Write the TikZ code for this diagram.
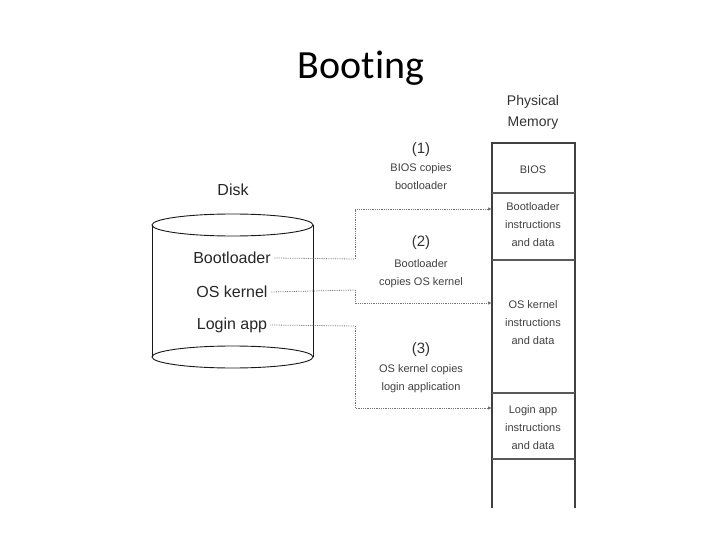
\documentclass[tikz,border=0pt]{standalone}
\usepackage{fontspec}
\setmainfont{Liberation Sans}
\newfontfamily\titlefont[Ligatures=NoCommon]{Carlito}
\usetikzlibrary{arrows.meta}
\begin{document}
\begin{tikzpicture}[x=1pt,y=-1pt,
  disktxt/.style={font=\fontsize{16}{19}\selectfont, inner sep=0, text=black!85},
  lbl/.style={font=\fontsize{11}{18}\selectfont, align=center, inner sep=0, text=black!75},
  num/.style={font=\fontsize{15}{18}\selectfont, inner sep=0, text=black!80},
  memtxt/.style={font=\fontsize{11}{18}\selectfont, align=center, inner sep=0, text=black!75},
  conn/.style={densely dotted, black!55, line width=0.8pt, -{Latex[length=4pt,width=3.5pt]}},
  link/.style={densely dotted, black!55, line width=0.8pt},
  cyl/.style={line width=0.9pt, black!90}]
\useasboundingbox (0,0) rectangle (720,540);
% title
\node[font=\titlefont\fontsize{40}{48}\selectfont, anchor=base, inner sep=0] (title) at (361,79) {Booting};
% disk cylinder
\node[disktxt] (disk) at (233,190) {Disk};
\draw[cyl] (152,225) -- (152,357);
\draw[cyl] (313,225) -- (313,357);
\draw[cyl] (232.5,225) ellipse [x radius=80.5, y radius=11];
\draw[cyl] (232.5,357) ellipse [x radius=80.5, y radius=11];
\node[disktxt] (bl) at (232,258) {Bootloader};
\node[disktxt] (os) at (232,292) {OS kernel};
\node[disktxt] (la) at (232,325) {Login app};
% physical memory
\node[font=\fontsize{14}{21}\selectfont, align=center, inner sep=0, text=black!80] (pm) at (533,112) {Physical\\Memory};
\draw[line width=1.4pt, black!75] (492,508) -- (492,143) -- (575,143) -- (575,508);
\draw[line width=1.1pt, black!65] (492,193) -- (575,193);
\draw[line width=1.1pt, black!65] (492,260) -- (575,260);
\draw[line width=1.1pt, black!65] (492,393) -- (575,393);
\draw[line width=1.1pt, black!65] (492,459) -- (575,459);
\node[memtxt] (mbios) at (533,170) {BIOS};
\node[memtxt] (mboot) at (533,225) {Bootloader\\instructions\\and data};
\node[memtxt] (mos) at (533,323) {OS kernel\\instructions\\and data};
\node[memtxt] (mlog) at (533,428) {Login app\\instructions\\and data};
% step labels
\node[num] (n1) at (421,150) {(1)};
\node[lbl] (t1) at (421,177) {BIOS copies\\bootloader};
\node[num] (n2) at (421,243) {(2)};
\node[lbl] (t2) at (421,274) {Bootloader\\copies OS kernel};
\node[num] (n3) at (421,350) {(3)};
\node[lbl] (t3) at (421,379) {OS kernel copies\\login application};
% connectors
\coordinate (k1) at (355,259);
\coordinate (k2) at (355,290);
\coordinate (k3) at (355,326);
\coordinate (e1) at (492,209);
\coordinate (e2) at (492,303);
\coordinate (e3) at (492,408);
\draw[link] ([xshift=3pt]bl.east) -- (k1);
\draw[conn] (k1) |- (e1);
\draw[link] ([xshift=3pt]os.east) -- (k2);
\draw[conn] (k2) |- (e2);
\draw[link] ([xshift=3pt]la.east) -- (k3);
\draw[conn] (k3) |- (e3);
\end{tikzpicture}
\end{document}
